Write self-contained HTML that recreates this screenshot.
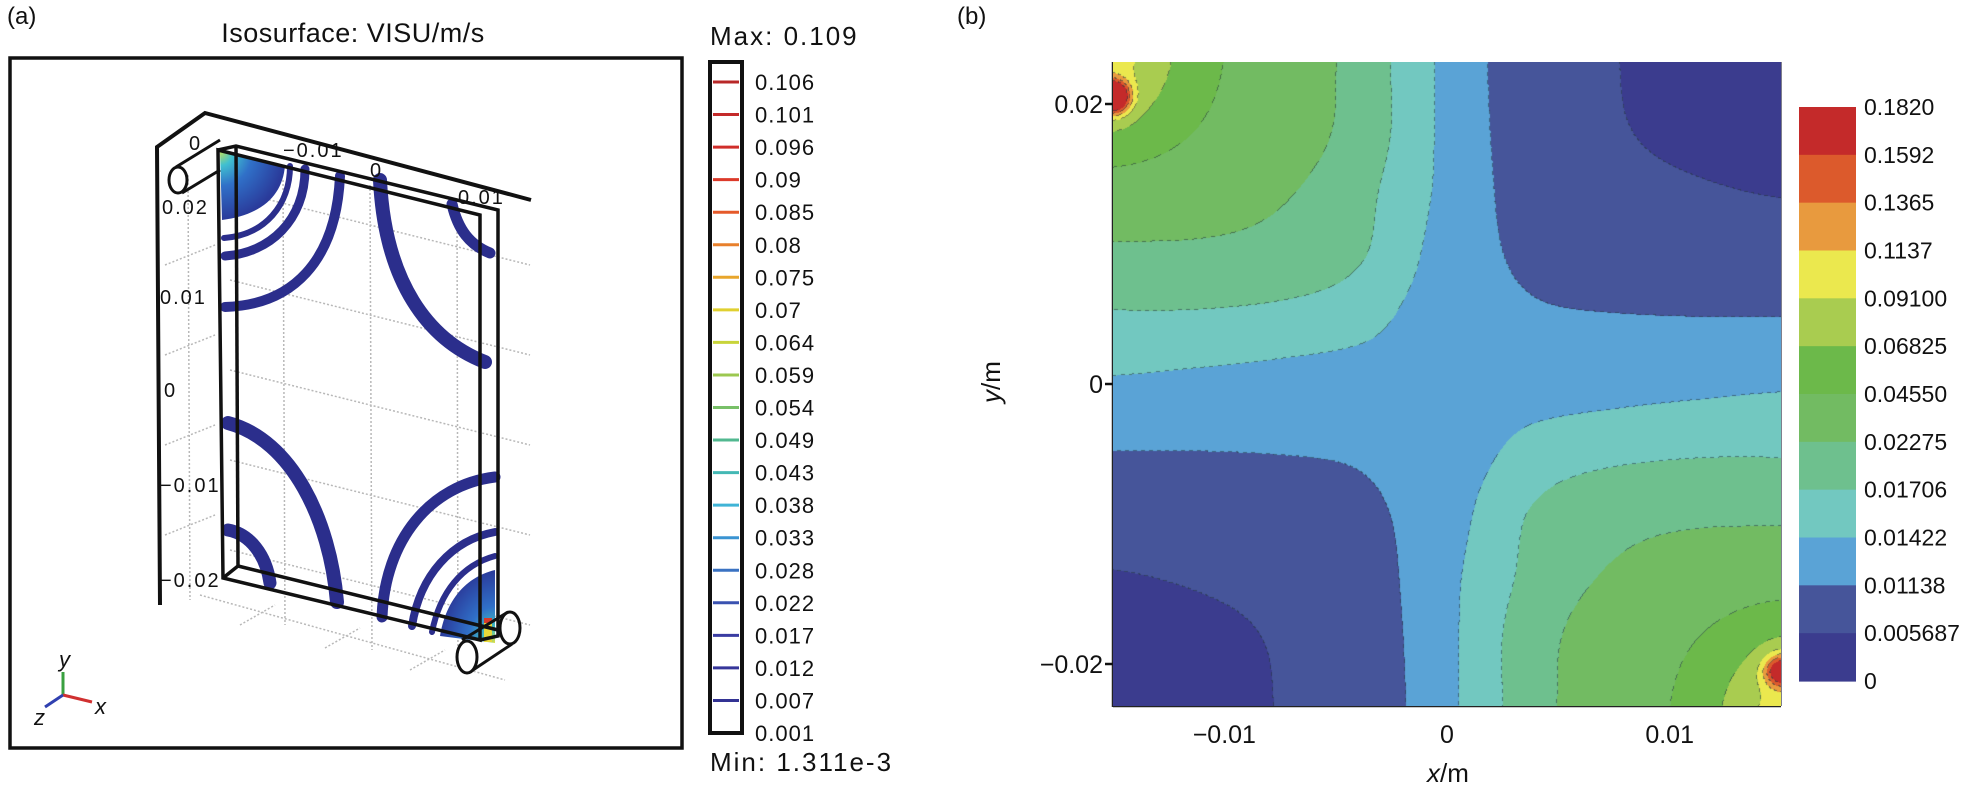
<!DOCTYPE html>
<html><head><meta charset="utf-8">
<style>
html,body{margin:0;padding:0;background:#fff;}
body{width:1969px;height:785px;position:relative;overflow:hidden;font-family:"Liberation Sans",Arial,sans-serif;}
#plotb{position:absolute;left:1113px;top:62px;}
svg{position:absolute;left:0;top:0;}
</style></head>
<body>
<svg id="main" width="1969" height="785" viewBox="0 0 1969 785">
 <g id="panelA">
  <text x="7" y="24" font-size="24" fill="#111">(a)</text>
  <text x="353" y="42" font-size="27" fill="#111" text-anchor="middle" letter-spacing="0.5">Isosurface: VISU/m/s</text>
  <rect x="10" y="58" width="672" height="690" fill="none" stroke="#111" stroke-width="3.5"/>
  <g stroke="#b8b8b8" stroke-width="1.5" stroke-dasharray="2 2" fill="none">
   <line x1="188" y1="175" x2="190" y2="600"/>
   <line x1="283" y1="180" x2="285" y2="625"/>
   <line x1="370" y1="185" x2="372" y2="650"/>
   <line x1="457" y1="200" x2="458" y2="668"/>
   <line x1="230" y1="190" x2="530" y2="265"/>
   <line x1="230" y1="280" x2="530" y2="355"/>
   <line x1="230" y1="370" x2="530" y2="445"/>
   <line x1="230" y1="460" x2="530" y2="535"/>
   <line x1="230" y1="550" x2="530" y2="625"/>
   <line x1="165" y1="265" x2="215" y2="245"/>
   <line x1="165" y1="355" x2="215" y2="335"/>
   <line x1="165" y1="445" x2="215" y2="425"/>
   <line x1="165" y1="535" x2="215" y2="515"/>
   <line x1="200" y1="595" x2="505" y2="680"/>
   <line x1="240" y1="625" x2="275" y2="605"/>
   <line x1="325" y1="648" x2="360" y2="628"/>
   <line x1="410" y1="670" x2="445" y2="650"/>
  </g>
  <polyline points="160,605 157,147 205,113 531,200" fill="none" stroke="#111" stroke-width="4"/>
  <defs>
   <radialGradient id="gTL" cx="0" cy="0" r="1">
    <stop offset="0" stop-color="#b8e060"/><stop offset="0.2" stop-color="#40c0d0"/><stop offset="0.5" stop-color="#3070c8"/><stop offset="1" stop-color="#2a3a9a"/>
   </radialGradient>
   <radialGradient id="gBR" cx="1" cy="1" r="1">
    <stop offset="0" stop-color="#e0e040"/><stop offset="0.2" stop-color="#40c0c0"/><stop offset="0.5" stop-color="#3070c8"/><stop offset="1" stop-color="#2a3a9a"/>
   </radialGradient>
  </defs>
  <g fill="none" stroke="#2b2e8c" stroke-linecap="round">
   <path d="M220,152 L285,165 C283,195 262,215 222,220 Z" fill="url(#gTL)" stroke="none"/>
   <path d="M290,166 C290,205 265,235 224,238" stroke-width="6"/>
   <path d="M305,169 C305,220 270,253 225,256" stroke-width="9"/>
   <path d="M340,176 C336,262 292,305 225,307" stroke-width="10"/>
   <path d="M380,180 C385,282 428,340 485,362" stroke-width="14"/>
   <path d="M452,204 C458,230 470,245 490,253" stroke-width="11"/>
   <path d="M228,423 C292,440 330,520 337,602" stroke-width="14"/>
   <path d="M228,530 C250,534 266,555 270,583" stroke-width="13"/>
   <path d="M382,617 C385,540 430,485 495,477" stroke-width="11"/>
   <path d="M412,626 C420,575 452,540 495,532" stroke-width="8"/>
   <path d="M432,632 C440,592 462,565 495,556" stroke-width="6"/>
   <path d="M440,636 L495,643 L495,570 C462,578 445,605 440,636 Z" fill="url(#gBR)" stroke="none"/>
   <rect x="484" y="618" width="8" height="24" fill="#e8d83a" stroke="none"/>
   <rect x="484" y="618" width="8" height="5" fill="#d83a2a" stroke="none"/>
  </g>
  <g fill="none" stroke="#111" stroke-width="3.5">
   <polygon points="218,150 480,215 480,640 223,578"/>
   <polyline points="218,150 236,146 498,210 498,636 480,640"/>
   <line x1="236" y1="146" x2="238" y2="566"/>
   <line x1="238" y1="566" x2="223" y2="578"/>
   <line x1="238" y1="566" x2="498" y2="630"/>
  </g>
  <g fill="#fff" stroke="#111" stroke-width="3">
   <line x1="176" y1="167" x2="220" y2="140"/>
   <line x1="182" y1="193" x2="220" y2="170"/>
   <ellipse cx="178" cy="180" rx="9" ry="13"/>
  </g>
  <g fill="none" stroke="#111" stroke-width="3">
   <line x1="462" y1="640" x2="508" y2="612"/>
   <line x1="470" y1="672" x2="512" y2="644"/>
   <ellipse cx="510" cy="628" rx="10" ry="16" fill="none"/>
   <ellipse cx="467" cy="657" rx="10" ry="16" fill="#fff"/>
  </g>
  <g font-size="20" fill="#111" letter-spacing="2">
   <text x="189" y="150">0</text>
   <text x="283" y="157">−0.01</text>
   <text x="370" y="177">0</text>
   <text x="458" y="204">0.01</text>
   <text x="162" y="214">0.02</text>
   <text x="160" y="304">0.01</text>
   <text x="164" y="397">0</text>
   <text x="160" y="492">−0.01</text>
   <text x="160" y="587">−0.02</text>
  </g>
  <g stroke-width="3">
   <line x1="63" y1="695" x2="63" y2="672" stroke="#3aa040"/>
   <line x1="63" y1="695" x2="92" y2="702" stroke="#d03030"/>
   <line x1="63" y1="695" x2="45" y2="707" stroke="#3040b0"/>
  </g>
  <g font-size="22" font-style="italic" fill="#111">
   <text x="59" y="667">y</text>
   <text x="95" y="714">x</text>
   <text x="34" y="725">z</text>
  </g>
  <text x="710" y="45" font-size="26" letter-spacing="2" fill="#111">Max: 0.109</text>
  <text x="710" y="771" font-size="26" letter-spacing="2" fill="#111">Min: 1.311e-3</text>
  <g id="cbA"></g>
 </g>

 <g id="panelB">
  <text x="957" y="24" font-size="24" fill="#111">(b)</text>
  <g id="axesB"></g>
  <text x="1448" y="782" font-size="26" fill="#111" text-anchor="middle"><tspan font-style="italic">x</tspan>/m</text>
  <text transform="translate(1000,382) rotate(-90)" font-size="26" fill="#111" text-anchor="middle"><tspan font-style="italic">y</tspan>/m</text>
  <g id="cbB"></g>
 </g>
</svg>
<canvas id="plotb" width="668" height="644"></canvas>

<script>
const cbALabels = ["0.106","0.101","0.096","0.09","0.085","0.08","0.075","0.07","0.064","0.059","0.054","0.049","0.043","0.038","0.033","0.028","0.022","0.017","0.012","0.007","0.001"];
const cbALineColors = ["#b82828","#c42a2a","#d02e2a","#dc3a2a","#e55a2a","#e8802c","#e8a62c","#e0d030","#c8d43a","#9cc850","#78c068","#52b890","#44b8b4","#40b4d6","#3a94d2","#3a72c2","#3a52b0","#3a3ca2","#36369a","#333394"];

const xTicks = [-0.01, 0, 0.01];
const xTickLabels = ["−0.01","0","0.01"];
const yTicks = [0.02, 0, -0.02];
const yTickLabels = ["0.02","0","−0.02"];
const levels = [0, 0.005687, 0.01138, 0.01422, 0.01706, 0.02275, 0.0455, 0.06825, 0.091, 0.1137, 0.1365, 0.1592, 0.182];
const levelLabels = ["0","0.005687","0.01138","0.01422","0.01706","0.02275","0.04550","0.06825","0.09100","0.1137","0.1365","0.1592","0.1820"];
const levelColors = ["#3b3c8e","#46559a","#5aa3d6","#72c8c0","#6ec08e","#72bb62","#6cb94a","#a9cc50","#ebe84e","#e89a3e","#dc5a2c","#c42a2a"];
const xNodes = [-0.015,-0.01125,-0.0075,-0.00375,0,0.00375,0.0075,0.01125,0.015];
const yNodes = [0.023,0.0184,0.0138,0.0092,0.0046,0,-0.0046,-0.0092,-0.0138,-0.0184,-0.023];
const row0  = [0.100,0.055,0.032,0.0196,0.0135,0.0095,0.0059,0.0035,0.0020];
const row1  = [0.070,0.046,0.030,0.0195,0.0135,0.0097,0.0062,0.0040,0.0025];
const row2  = [0.034,0.030,0.024,0.0180,0.0135,0.0100,0.0075,0.0062,0.0054];
const row3  = [0.021,0.021,0.020,0.0172,0.0130,0.0108,0.0092,0.0083,0.0078];
const row4  = [0.0166,0.0165,0.0160,0.0150,0.0126,0.0118,0.0116,0.0115,0.0115];
const row5  = [0.0139,0.0136,0.0133,0.0130,0.0128,0.0130,0.0133,0.0136,0.0139];
const row6  = [0.0115,0.0115,0.0116,0.0118,0.0126,0.0150,0.0160,0.0165,0.0166];
const row7  = [0.0078,0.0083,0.0092,0.0108,0.0130,0.0172,0.020,0.021,0.021];
const row8  = [0.0054,0.0062,0.0075,0.0100,0.0135,0.0180,0.024,0.030,0.034];
const row9  = [0.0025,0.0040,0.0062,0.0097,0.0135,0.0195,0.030,0.046,0.070];
const row10 = [0.0020,0.0035,0.0059,0.0095,0.0135,0.0196,0.032,0.055,0.100];
const gridRows = [row0,row1,row2,row3,row4,row5,row6,row7,row8,row9,row10];
const hotX = [-0.015, 0.015];
const hotY = [0.0205, -0.0205];
const hotPeak = [0.19, 0.12];

const NS = "http://www.w3.org/2000/svg";
function mk(tag, attrs, parent){const e=document.createElementNS(NS,tag);for(const k in attrs)e.setAttribute(k,attrs[k]);parent.appendChild(e);return e;}

(function(){
  const g = document.getElementById('cbA');
  const top=62, bot=733, x0=710, w=32;
  const r = mk('rect',{x:x0,y:top,width:w,height:bot-top,fill:'#fff',stroke:'#111','stroke-width':4},g);
  
  
  const step=(733-82)/(cbALabels.length-1);
  cbALabels.forEach((lab,i)=>{
    const y=82+i*step;
    if(i<cbALineColors.length){
      const l=mk('line',{x1:x0+3,x2:x0+w-3,y1:y,y2:y,stroke:cbALineColors[i],'stroke-width':3},g);
      
      
    }
    const t=mk('text',{x:755,y:y+8,'font-size':22,'letter-spacing':1,fill:'#111'},g);
    t.textContent=lab;
    
    
  });
})();

const PX0=1113, PX1=1781, PY0=62, PY1=706;
const XMIN=-0.015, XMAX=0.015, YMIN=-0.023, YMAX=0.023;
function sx(v){return PX0+(v-XMIN)/(XMAX-XMIN)*(PX1-PX0);}
function sy(v){return PY1-(v-YMIN)/(YMAX-YMIN)*(PY1-PY0);}

(function(){
  const g=document.getElementById('axesB');
  const a1=mk('line',{x1:PX0,y1:PY0,x2:PX0,y2:PY1+1,stroke:'#222','stroke-width':2.5},g);
  
  
  const a2=mk('line',{x1:PX0,y1:PY1,x2:PX1,y2:PY1,stroke:'#222','stroke-width':2.5},g);
  
  
  const a3=mk('line',{x1:PX1,y1:PY0,x2:PX1,y2:PY1,stroke:'#556','stroke-width':1.5},g);
  
  
  xTicks.forEach((v,i)=>{
    const x=sx(v);
    const t=mk('line',{x1:x,x2:x,y1:PY1,y2:PY1-13,stroke:'#111','stroke-width':2.5},g);
    
    
    const l=mk('text',{x:x,y:PY1+37,'font-size':25,'text-anchor':'middle',fill:'#111'},g);
    l.textContent=xTickLabels[i];
    
    
  });
  yTicks.forEach((v,i)=>{
    const y=sy(v);
    const t=mk('line',{x1:PX0-8,x2:PX0+6,y1:y,y2:y,stroke:'#111','stroke-width':2.5},g);
    
    
    const l=mk('text',{x:PX0-10,y:y+9,'font-size':25,'text-anchor':'end',fill:'#111'},g);
    l.textContent=yTickLabels[i];
    
    
  });
})();

(function(){
  const g=document.getElementById('cbB');
  const top=107, bot=681, x0=1799, w=57;
  const n=levelColors.length;
  const bh=(bot-top)/n;
  for(let i=0;i<n;i++){
    const ci=n-1-i;
    const r=mk('rect',{x:x0,y:top+i*bh,width:w,height:bh+0.6,fill:levelColors[ci]},g);
    
    
  }
  for(let i=0;i<levelLabels.length;i++){
    const li=levelLabels.length-1-i;
    const t=mk('text',{x:1864,y:top+i*bh+8,'font-size':23,fill:'#111'},g);
    t.textContent=levelLabels[li];
    
    
  }
})();

(function(){
  const cv=document.getElementById('plotb');
  const ctx=cv.getContext('2d');
  const W=cv.width,H=cv.height;
  const nc=xNodes.length, nr=yNodes.length;
  function cr(p0,p1,p2,p3,t){return 0.5*((2*p1)+(-p0+p2)*t+(2*p0-5*p1+4*p2-p3)*t*t+(-p0+3*p1-3*p2+p3)*t*t*t);}
  function G(r,c){r=Math.max(0,Math.min(nr-1,r));c=Math.max(0,Math.min(nc-1,c));return gridRows[r][c];}
  function field(dx,dy){
    const fx=(dx-xNodes[0])/(xNodes[nc-1]-xNodes[0])*(nc-1);
    const fy=(yNodes[0]-dy)/(yNodes[0]-yNodes[nr-1])*(nr-1);
    const c=Math.min(nc-2,Math.max(0,Math.floor(fx))), r=Math.min(nr-2,Math.max(0,Math.floor(fy)));
    const tx=fx-c, ty=fy-r;
    const rows=[];
    for(let k=-1;k<=2;k++) rows.push(cr(G(r+k,c-1),G(r+k,c),G(r+k,c+1),G(r+k,c+2),tx));
    let v=cr(rows[0],rows[1],rows[2],rows[3],ty);
    for(let h=0;h<hotX.length;h++){
      const ex=(dx-hotX[h])/0.0007, ey=(dy-hotY[h])/0.0011;
      v+=hotPeak[h]*Math.exp(-(ex*ex+ey*ey));
    }
    return v;
  }
  function lvl(v){let i=0;while(i<levelColors.length-1 && v>=levels[i+1])i++;return i;}
  const rgb=levelColors.map(c=>[parseInt(c.substr(1,2),16),parseInt(c.substr(3,2),16),parseInt(c.substr(5,2),16)]);
  const idx=new Int8Array(W*H);
  for(let y=0;y<H;y++){
    const dy=YMAX-(y+0.5)/H*(YMAX-YMIN);
    for(let x=0;x<W;x++){
      const dx=XMIN+(x+0.5)/W*(XMAX-XMIN);
      idx[y*W+x]=lvl(field(dx,dy));
    }
  }
  const img=ctx.createImageData(W,H);
  const d=img.data;
  for(let y=0;y<H;y++){
    for(let x=0;x<W;x++){
      const p=y*W+x, k=idx[p];
      let c=rgb[k];
      let r=c[0],g=c[1],b=c[2];
      const edge=(x<W-1&&idx[p+1]!==k)||(y<H-1&&idx[p+W]!==k);
      if(edge && (((x+y)>>2)&1)===0){r=r*0.45+20;g=g*0.45+30;b=b*0.45+35;}
      d[p*4]=r;d[p*4+1]=g;d[p*4+2]=b;d[p*4+3]=255;
    }
  }
  ctx.putImageData(img,0,0);
})();
</script>
</body></html>
